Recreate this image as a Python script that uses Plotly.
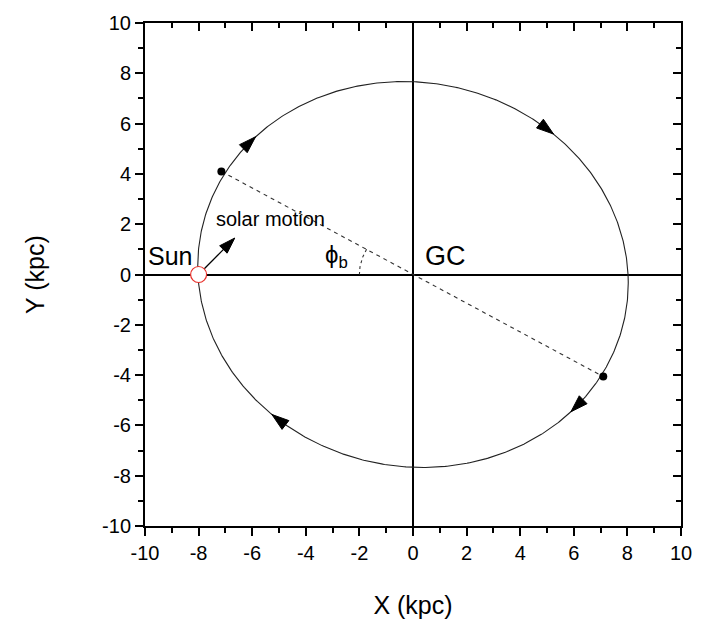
import numpy as np
import plotly.graph_objects as go

# --- values ---
orbit_semi_major = 8.1      # kpc
orbit_semi_minor = 7.6      # kpc
orbit_tilt_deg = -22.0      # orientation of major axis
bar_angle_deg = 30.0        # phi_b
bar_end_x = [-7.15, 7.1]
bar_end_y = [4.1, -4.06]
sun_x = [-8.0]
sun_y = [0.0]
solar_tip_x = [-6.65]
solar_tip_y = [1.45]
arrow_polar_deg = [137.0, 46.8, -42.8, -133.4]   # positions of direction arrows on orbit
arc_radius = 2.0
tick_vals = [-10, -8, -6, -4, -2, 0, 2, 4, 6, 8, 10]
tick_text = [str(v) for v in tick_vals]

FONT = "Arial, Liberation Sans, Helvetica, sans-serif"


def orbit_r(phi_deg):
    a, b = orbit_semi_major, orbit_semi_minor
    d = np.radians(np.asarray(phi_deg, dtype=float) - orbit_tilt_deg)
    return 1.0 / np.sqrt((np.cos(d) / a) ** 2 + (np.sin(d) / b) ** 2)


def orbit_xy(phi_deg):
    r = orbit_r(phi_deg)
    p = np.radians(np.asarray(phi_deg, dtype=float))
    return r * np.cos(p), r * np.sin(p)


fig = go.Figure()

# orbit
phis = np.linspace(0, 360, 721)
ox, oy = orbit_xy(phis)
fig.add_trace(go.Scatter(x=ox, y=oy, mode="lines",
                         line=dict(color="#222", width=1.1), hoverinfo="skip"))

# bar (dashed)
fig.add_trace(go.Scatter(x=bar_end_x, y=bar_end_y, mode="lines",
                         line=dict(color="#333", width=1.1, dash="4px,4px"), hoverinfo="skip"))

# angle arc
arc_phi = np.linspace(180 - bar_angle_deg, 180, 30)
fig.add_trace(go.Scatter(x=arc_radius * np.cos(np.radians(arc_phi)),
                         y=arc_radius * np.sin(np.radians(arc_phi)),
                         mode="lines", line=dict(color="#333", width=1.1, dash="3px,3px"),
                         hoverinfo="skip"))

# direction arrows on the orbit (clockwise)
for ph in arrow_polar_deg:
    tx, ty = orbit_xy([ph + 3.0, ph])
    fig.add_trace(go.Scatter(x=tx, y=ty, mode="markers",
                             marker=dict(symbol=["circle", "arrow"], size=[0, 18],
                                         angleref="previous", color="black", opacity=1,
                                         line=dict(width=1, color="black")),
                             hoverinfo="skip"))

# solar motion arrow
fig.add_trace(go.Scatter(x=[sun_x[0], solar_tip_x[0]], y=[sun_y[0], solar_tip_y[0]],
                         mode="lines+markers",
                         line=dict(color="black", width=1.3),
                         marker=dict(symbol=["circle", "arrow"], size=[0, 17],
                                     angleref="previous", color="black", opacity=1,
                                     line=dict(width=1, color="black")),
                         hoverinfo="skip"))

# bar end dots
fig.add_trace(go.Scatter(x=bar_end_x, y=bar_end_y, mode="markers",
                         marker=dict(color="black", size=8), hoverinfo="skip"))

# Sun
fig.add_trace(go.Scatter(x=sun_x, y=sun_y, mode="markers",
                         marker=dict(color="white", size=16, line=dict(color="#e8302a", width=1.2)),
                         hoverinfo="skip"))

# dummy trace to activate mirror axes
fig.add_trace(go.Scatter(x=[0], y=[0], xaxis="x2", yaxis="y2", mode="markers",
                         marker=dict(size=0.1, opacity=0), showlegend=False, hoverinfo="skip"))

ann = [
    dict(x=-9.05, y=0.75, text="Sun", size=25),
    dict(x=-5.3, y=2.2, text="solar motion", size=20),
    dict(x=-2.85, y=0.72, text="ϕ<sub>b</sub>", size=24),
    dict(x=1.2, y=0.72, text="GC", size=27),
]
fig.update_layout(annotations=[
    dict(x=a["x"], y=a["y"], text=a["text"], xref="x", yref="y", showarrow=False,
         font=dict(family=FONT, color="black", size=a["size"])) for a in ann])

axis_common = dict(range=[-10, 10], tickmode="array", tickvals=tick_vals, ticktext=tick_text,
                   showgrid=False, showline=True, linecolor="black", linewidth=2,
                   tickcolor="black", tickwidth=2, ticklen=8,
                   minor=dict(dtick=1, ticklen=5, tickwidth=2, tickcolor="black", showgrid=False),
                   tickfont=dict(family=FONT, size=20, color="black"))

fig.update_layout(
    width=704, height=629,
    margin=dict(l=145, r=19, t=21, b=103),
    paper_bgcolor="white", plot_bgcolor="white",
    showlegend=False,
    xaxis=dict(**axis_common, ticks="outside", minor_ticks="outside",
               zeroline=True, zerolinecolor="black", zerolinewidth=2,
               title=dict(text="X (kpc)", font=dict(family=FONT, size=25, color="black"), standoff=33)),
    yaxis=dict(**axis_common, ticks="outside", minor_ticks="outside",
               zeroline=True, zerolinecolor="black", zerolinewidth=2,
               title=dict(text="Y (kpc)", font=dict(family=FONT, size=25, color="black"), standoff=50)),
    xaxis2=dict(**axis_common, overlaying="x", side="top", ticks="inside", minor_ticks="inside",
                showticklabels=False, zeroline=False),
    yaxis2=dict(**axis_common, overlaying="y", side="right", ticks="inside", minor_ticks="inside",
                showticklabels=False, zeroline=False),
)

fig.write_html("out.html")
